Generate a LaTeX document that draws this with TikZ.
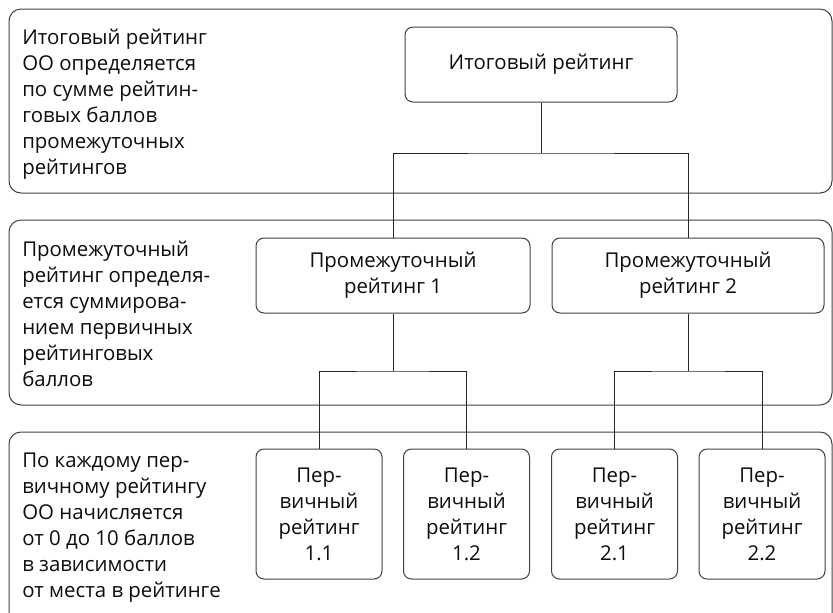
\documentclass[tikz,border=0pt]{standalone}
\usepackage{fontspec}
\setmainfont{Open Sans}
\begin{document}
\begin{tikzpicture}[x=0.75pt,y=-0.75pt,
  every node/.style={font=\fontsize{15.3}{19.5}\selectfont, text=black!95},
  band/.style={draw=black!75, line width=0.75pt, rounded corners=9pt},
  box/.style={draw=black!75, line width=0.75pt, rounded corners=6pt, align=center, inner sep=0pt},
  lbl/.style={align=left, inner sep=0pt, anchor=base west},
  conn/.style={draw=black!85, line width=0.75pt}]
\clip (0,0) rectangle (833,612);
% bands
\draw[band] (9,9) rectangle (832,193);
\draw[band] (9,220) rectangle (832,405);
\draw[band] (9,432) rectangle (832,650);
% labels (anchor is the baseline of the last line)
\node[lbl] (l1) at (22,174) {Итоговый рейтинг\\ОО определяется\\по сумме рейтин-\\говых баллов\\промежуточных\\рейтингов};
\node[lbl] (l2) at (22,386) {Промежуточный\\рейтинг определя-\\ется суммирова-\\нием первичных\\рейтинговых\\баллов};
\node[lbl] (l3) at (22,597) {По каждому пер-\\вичному рейтингу\\ОО начисляется\\от 0 до 10 баллов\\в зависимости\\от места в рейтинге};
% nodes
\node[box, minimum width=272*0.75pt, minimum height=75*0.75pt] (top) at (541,64.5) {Итоговый рейтинг};
\node[box, minimum width=274*0.75pt, minimum height=75*0.75pt] (p1) at (393,275.5) {Промежуточный\\рейтинг 1};
\node[box, minimum width=272*0.75pt, minimum height=75*0.75pt] (p2) at (688,275.5) {Промежуточный\\рейтинг 2};
\node[box, minimum width=126*0.75pt, minimum height=130*0.75pt] (s11) at (319,514) {Пер-\\вичный\\рейтинг\\1.1};
\node[box, minimum width=126*0.75pt, minimum height=130*0.75pt] (s12) at (466.5,514) {Пер-\\вичный\\рейтинг\\1.2};
\node[box, minimum width=126*0.75pt, minimum height=130*0.75pt] (s21) at (614.5,514) {Пер-\\вичный\\рейтинг\\2.1};
\node[box, minimum width=126*0.75pt, minimum height=130*0.75pt] (s22) at (762,514) {Пер-\\вичный\\рейтинг\\2.2};
% junctions
\coordinate (j0) at (541,153);
\coordinate (j1) at (393,371);
\coordinate (j2) at (688,371);
\draw[conn] (top.south) -- (j0);
\draw[conn] (p1.north) |- (j0) -| (p2.north);
\draw[conn] (p1.south) -- (j1);
\draw[conn] (s11.north) |- (j1) -| (s12.north);
\draw[conn] (p2.south) -- (j2);
\draw[conn] (s21.north) |- (j2) -| (s22.north);
\end{tikzpicture}
\end{document}
